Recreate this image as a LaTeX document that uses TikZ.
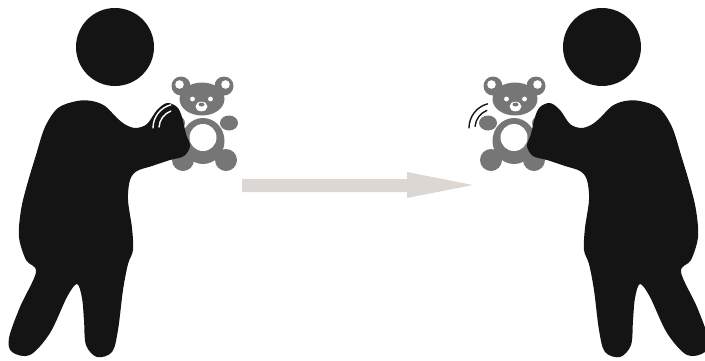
\documentclass[tikz,border=0pt]{standalone}
\definecolor{figblack}{RGB}{20,20,20}
\definecolor{teddygray}{RGB}{118,118,118}
\definecolor{arrowgray}{RGB}{220,215,211}
\begin{document}
\begin{tikzpicture}[x=1pt,y=-1pt,
  figure/.style={fill=figblack},
  teddy/.style={fill=teddygray},
  patch/.style={fill=white},
  motion/.style={line width=1.4pt, line cap=round},
  transfer/.style={fill=arrowgray}]
\useasboundingbox (0,0) rectangle (705,360);

% teddy bear held at arm's length
\newcommand{\teddybear}{%
  \fill[teddy] (181,86) circle (9.5) (224,86) circle (9.5);
  \fill[patch] (179.5,84.5) circle (4.3) (225.5,84.5) circle (4.3);
  \fill[teddy] (183,160) ellipse (11 and 11) (226,160) ellipse (11 and 11);
  \fill[teddy] (176,123) ellipse (9 and 7.5) (229,123) ellipse (9 and 7.5);
  \fill[teddy] (203,141) ellipse (21.5 and 23);
  \fill[teddy] (202,99) ellipse (22.5 and 16.5);
  \fill[patch] (203,137.5) circle (13.5);
  \fill[patch] (192.5,99) circle (2.4) (210.5,99) circle (2.4);
  \fill[patch] (201.5,106.5) ellipse (6 and 4.8);
  \fill[teddy] (201.5,104.5) ellipse (3 and 2);
}

% standing person reaching out with one hand
\newcommand{\holder}{%
  \fill[figure] (115,47) circle (39);
  \fill[figure] plot[smooth cycle, tension=0.55] coordinates {
    (77,101) (92,101) (105,106) (117,118) (126,125) (136,128) (147,124)
    (157,110) (167,103) (177,107) (182,117) (186,134) (190,146) (184,156)
    (170,160) (152,166) (137,171) (130,180) (128,200) (132,228) (133,250)
    (128,264) (123,290) (118,330) (112,352) (97,357) (86,345) (84,320)
    (82,298) (77,284) (67,297) (50,333) (30,355) (12,352) (9,338) (20,307)
    (36,272) (26,260) (19,237) (21,210) (27,185) (36,155) (45,127) (58,108)};
}

% giver on the left
\teddybear
\holder
\draw[motion, white] (177,128) ++(180:24) arc (180:255:24);
\draw[motion, white] (177,128) ++(183:18) arc (183:250:18);

% receiver on the right, mirrored
\begin{scope}[xshift=717pt, xscale=-1]
  \teddybear
  \holder
\end{scope}
\draw[motion, figblack] (494,128) ++(180:25) arc (180:255:25);
\draw[motion, figblack] (494,128) ++(185:19) arc (185:248:19);

% hand-over arrow
\fill[transfer] (242,179) -- (407,179) -- (407,172) -- (473,185)
  -- (407,198) -- (407,192) -- (242,192) -- cycle;
\end{tikzpicture}
\end{document}
